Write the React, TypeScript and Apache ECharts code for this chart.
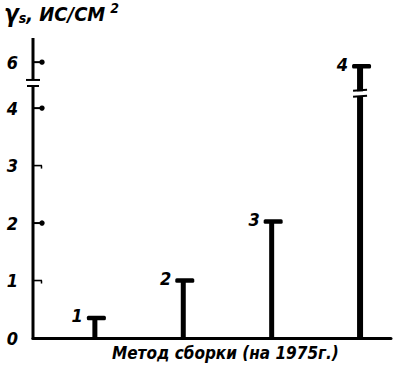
import React, { useEffect, useRef } from "react";
import * as echarts from "echarts";

// Method numbers (x positions) and their labels
const methods = [1, 2, 3, 4];
const methodLabels = ["1", "2", "3", "4"];
// γs values, ИС/СМ²
const values = [0.35, 1.0, 2.03, 5.93];
// Y tick labels (real values); the axis is broken between 4 and 6
const yTickValues = [0, 1, 2, 3, 4, 6];
const yDotTicks = [2, 4, 6];
const yTitle = "{g|γ}{s|s}{t|, ИС/СМ}{p|2}";
const xTitle = "Метод сборки (на 1975г.)";

// axis break: real values above BREAK_AT are shifted down by BREAK_SHIFT
const BREAK_AT = 4.5;
const BREAK_SHIFT = 1.2;
const toPlot = (v: number) => (v > BREAK_AT ? v - BREAK_SHIFT : v);
const fromPlot = (v: number) => (v > BREAK_AT ? v + BREAK_SHIFT : v);
const AXIS_BREAK_LOW = 4.385;
const AXIS_BREAK_HIGH = 4.49;
const BAR_BREAK = 4.24;

const X_MIN = 0.3;
const X_MAX = 4.35;
const Y_MAX = 5.22;

const FONT = '"DejaVu Sans Condensed", "DejaVu Sans", sans-serif';

export default function App() {
  const ref = useRef<HTMLDivElement>(null);
  useEffect(() => {
    if (!ref.current) return;
    const chart = echarts.init(ref.current, null, { renderer: "svg" });
    const barData = methods.map((m, i) => [m, toPlot(values[i]), i, values[i] > BREAK_AT ? 1 : 0]);
    chart.setOption({
      animation: false,
      backgroundColor: "#fff",
      grid: { left: 33, right: 2, top: 38, bottom: 32, containLabel: false, outerBoundsMode: "none" },
      xAxis: {
        type: "value",
        min: X_MIN,
        max: X_MAX,
        axisLine: { show: true, onZero: false, lineStyle: { color: "#000", width: 3 } },
        axisTick: { show: false },
        axisLabel: { show: false },
        splitLine: { show: false },
      },
      yAxis: {
        type: "value",
        min: 0,
        max: Y_MAX,
        axisLine: { show: false },
        axisTick: { show: false },
        axisLabel: {
          show: true,
          customValues: yTickValues.map(toPlot),
          formatter: (v: number) => String(Math.round(fromPlot(v))),
          margin: 15,
          color: "#000",
          fontSize: 18,
          fontStyle: "italic",
          fontWeight: "bold",
          fontFamily: FONT,
        },
        splitLine: { show: false },
      },
      graphic: [
        {
          type: "text",
          left: 4,
          top: 1,
          style: {
            text: yTitle,
            fill: "#000",
            rich: {
              g: { fontSize: 24, fontStyle: "italic", fontWeight: "bold", fontFamily: FONT },
              s: { fontSize: 14, fontStyle: "italic", fontWeight: "bold", fontFamily: FONT, padding: [8, 0, 0, 0] },
              t: { fontSize: 20, fontStyle: "italic", fontWeight: "bold", fontFamily: FONT },
              p: { fontSize: 14, fontStyle: "italic", fontWeight: "bold", fontFamily: FONT, padding: [0, 0, 12, 5] },
            },
          },
        },
        {
          type: "text",
          left: 112,
          top: 344,
          style: {
            text: xTitle,
            fill: "#000",
            fontSize: 17,
            fontStyle: "italic",
            fontWeight: "bold",
            fontFamily: FONT,
          },
        },
      ],
      series: [
        {
          type: "custom",
          name: "axis",
          data: [[X_MIN, 0]],
          clip: false,
          renderItem: (params: any, api: any) => {
            const b = api.coord([X_MIN, 0]);
            const lo = api.coord([X_MIN, AXIS_BREAK_LOW]);
            const hi = api.coord([X_MIN, AXIS_BREAK_HIGH]);
            const top = api.coord([X_MIN, Y_MAX]);
            const ax = b[0];
            const children: any[] = [];
            yTickValues.filter((v) => v > 0).forEach((v) => {
              const p = api.coord([X_MIN, toPlot(v)]);
              const dot = yDotTicks.indexOf(v) >= 0;
              children.push({
                type: "polyline",
                shape: { points: [[ax, p[1]], [ax + 9, p[1]]] },
                style: { stroke: "#000", fill: null, lineWidth: dot ? 2 : 1.6 },
                z2: 10,
              });
              if (dot) {
                children.push({ type: "circle", shape: { cx: ax + 9, cy: p[1], r: 2.7 }, style: { fill: "#000" }, z2: 10 });
              } else {
                children.push({
                  type: "polyline",
                  shape: { points: [[ax + 8.5, p[1]], [ax + 8.5, p[1] + 3]] },
                  style: { stroke: "#000", fill: null, lineWidth: 1.5 },
                  z2: 10,
                });
              }
            });
            children.push(
              { type: "rect", shape: { x: ax - 1.5, y: lo[1], width: 3, height: b[1] + 1.5 - lo[1] }, style: { fill: "#000" } },
              { type: "rect", shape: { x: ax - 1.5, y: top[1], width: 3, height: hi[1] - top[1] }, style: { fill: "#000" } },
              { type: "rect", shape: { x: ax - 6, y: lo[1] - 1, width: 12, height: 2 }, style: { fill: "#000" } },
              { type: "rect", shape: { x: ax - 7, y: hi[1] - 1, width: 14, height: 2 }, style: { fill: "#000" } }
            );
            return { type: "group", children };
          },
          z: 5,
        },
        {
          type: "custom",
          name: "bars",
          data: barData,
          renderItem: (params: any, api: any) => {
            const x = api.value(0);
            const v = api.value(1);
            const idx = api.value(2);
            const broken = api.value(3);
            const base = api.coord([x, 0]);
            const top = api.coord([x, v]);
            const sw = idx === 3 ? 6 : 5;
            const capL = top[0] - 8;
            const capW = 19;
            const children: any[] = [
              { type: "rect", shape: { x: top[0] - sw / 2, y: top[1], width: sw, height: base[1] - top[1] }, style: { fill: "#000" } },
              { type: "rect", shape: { x: capL, y: top[1] - 2.2, width: capW, height: 4.5, r: 1.5 }, style: { fill: "#000" } },
              {
                type: "text",
                style: {
                  text: methodLabels[idx],
                  x: capL - 4,
                  y: top[1] - 2,
                  align: "right",
                  verticalAlign: "middle",
                  fill: "#000",
                  font: `italic bold 18px ${FONT}`,
                },
              },
            ];
            if (broken) {
              const bp = api.coord([x, BAR_BREAK]);
              children.push(
                { type: "rect", shape: { x: top[0] - 5, y: bp[1] - 3, width: 10, height: 5 }, style: { fill: "#fff" } },
                { type: "line", shape: { x1: top[0] - 7, y1: bp[1] - 3.5, x2: top[0] + 7, y2: bp[1] - 4.5 }, style: { stroke: "#000", lineWidth: 2 } },
                { type: "line", shape: { x1: top[0] - 7, y1: bp[1] + 2.5, x2: top[0] + 7, y2: bp[1] + 1.5 }, style: { stroke: "#000", lineWidth: 2 } }
              );
            }
            return { type: "group", children };
          },
          z: 4,
        },
      ],
    });
    return () => chart.dispose();
  }, []);
  return (
    <div
      ref={ref}
      style={{ position: "fixed", left: 0, top: 0, width: 393, height: 370, background: "#fff" }}
    />
  );
}
